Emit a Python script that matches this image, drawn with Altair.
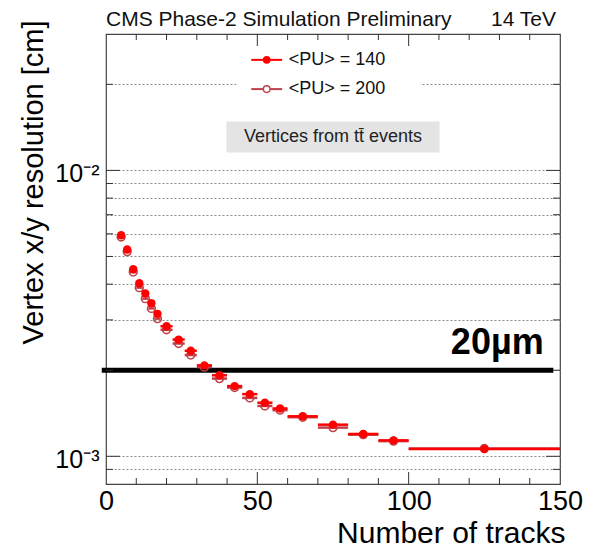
import altair as alt
import pandas as pd

FONT = "Liberation Sans"

# ---------------- data ----------------
bin_lo = [4, 6, 8, 10, 12, 14, 16, 18, 22, 26, 30, 35, 40, 45, 50, 55, 60, 70, 80, 90, 100]
bin_hi = [6, 8, 10, 12, 14, 16, 18, 22, 26, 30, 35, 40, 45, 50, 55, 60, 70, 80, 90, 100, 150]
bin_center = [5, 7, 9, 11, 13, 15, 17, 20, 24, 28, 32.5, 37.5, 42.5, 47.5, 52.5, 57.5, 65, 75, 85, 95, 125]
res_pu140 = [5.93e-3, 5.29e-3, 4.51e-3, 4.03e-3, 3.71e-3, 3.43e-3, 3.15e-3, 2.85e-3, 2.56e-3, 2.34e-3,
             2.08e-3, 1.92e-3, 1.76e-3, 1.65e-3, 1.54e-3, 1.47e-3, 1.38e-3, 1.29e-3, 1.197e-3, 1.137e-3, 1.06e-3]
res_pu200 = [5.85e-3, 5.20e-3, 4.41e-3, 3.89e-3, 3.56e-3, 3.29e-3, 3.03e-3, 2.77e-3, 2.48e-3, 2.26e-3,
             2.05e-3, 1.87e-3, 1.74e-3, 1.60e-3, 1.50e-3, 1.45e-3, 1.37e-3, 1.26e-3, 1.19e-3, 1.13e-3, 1.065e-3]
series_labels = ["<PU> = 140", "<PU> = 200"]
series_colors = ["#ff0000", "#c0404a"]

x_major = [0, 50, 100, 150]
x_minor = [10, 20, 30, 40, 60, 70, 80, 90, 110, 120, 130, 140]
y_grid = [9e-4, 1e-3, 2e-3, 3e-3, 4e-3, 5e-3, 6e-3, 7e-3, 8e-3, 9e-3, 1e-2, 2e-2]
y_major = [1e-3, 1e-2]

threshold_value = 0.002
threshold_label = "20µm"
threshold_x = [-1.4, 147.8]
header_left = "CMS Phase-2 Simulation Preliminary"
header_right = "14 TeV"
box_label = "Vertices from tt\u0304 events"

# ---------------- layout ----------------
W, H = 454, 450
x_scale = alt.Scale(domain=[0, 150], nice=False, zero=False)
y_scale = alt.Scale(type="log", domain=[8e-4, 3e-2], nice=False)

x_axis = alt.Axis(
    values=x_major, format="d", labelFont=FONT, labelFontSize=27, labelColor="black",
    labelPadding=4, labelFlush=False, tickSize=0, domain=False, grid=False,
    title="Number of tracks", titleFont=FONT, titleFontSize=30, titleFontWeight="normal",
    titleColor="black", titleAnchor="end", titleAlign="right", titleBaseline="alphabetic",
    titleX=W + 5, titleY=58,
)
y_axis = alt.Axis(
    values=y_grid,
    labelExpr="datum.value == 0.01 ? '10\u207b\u00b2' : (datum.value == 0.001 ? '10\u207b\u00b3' : '')",
    labelFont=FONT, labelFontSize=25, labelColor="black", labelPadding=7, labelOffset=3,
    tickSize=0, domain=False, grid=True, gridColor="#8a8a8a", gridDash=[2, 2], gridWidth=1,
    title="Vertex x/y resolution [cm]", titleFont=FONT, titleFontSize=29, titleFontWeight="normal",
    titleColor="black", titleAngle=-90, titleAlign="right", titleBaseline="alphabetic",
    titleX=-64, titleY=-14,
)


def X(field):
    return alt.X(field, type="quantitative", scale=x_scale, axis=x_axis)


def Y(field):
    return alt.Y(field, type="quantitative", scale=y_scale, axis=y_axis)


rows = []
for s, vals in zip(series_labels, [res_pu140, res_pu200]):
    for lo, hi, c, v in zip(bin_lo, bin_hi, bin_center, vals):
        rows.append({"series": s, "lo": lo, "hi": hi, "x": c, "y": v})
df = pd.DataFrame(rows)

color = alt.Color("series:N", scale=alt.Scale(domain=series_labels, range=series_colors), legend=None)

# boxes
legend_bg = alt.Chart(pd.DataFrame({"x": [43.1], "x2": [103.9], "y": [1.72e-2], "y2": [2.75e-2]})).mark_rect(
    color="white").encode(x=X("x"), x2="x2", y=Y("y"), y2="y2")
text_box = alt.Chart(pd.DataFrame({"x": [39.8], "x2": [110.2], "y": [1.156e-2], "y2": [1.483e-2]})).mark_rect(
    color="#e4e4e4").encode(x=X("x"), x2="x2", y=Y("y"), y2="y2")
text_box_label = alt.Chart(pd.DataFrame({"x": [75], "y": [1.311e-2], "t": [box_label]})).mark_text(
    font=FONT, fontSize=18, color="#222", align="center", baseline="middle").encode(x=X("x"), y=Y("y"), text="t:N")

# threshold line
thr = alt.Chart(pd.DataFrame({"x": [threshold_x[0]], "x2": [threshold_x[1]], "y": [threshold_value]})).mark_rule(
    color="black", strokeWidth=5).encode(x=X("x"), x2="x2", y=Y("y"))
thr_label = alt.Chart(pd.DataFrame({"x": [144.6], "y": [2.272e-3], "t": [threshold_label]})).mark_text(
    font=FONT, fontSize=36, fontWeight="bold", color="black", align="right", baseline="alphabetic").encode(
    x=X("x"), y=Y("y"), text="t:N")

# ticks (ROOT style, inward)
tick_color = "#333333"
xmaj_df = pd.DataFrame({"x": x_major[1:-1]})
xmin_df = pd.DataFrame({"x": x_minor})
ticks = [
    alt.Chart(xmaj_df).mark_rule(color=tick_color).encode(x=X("x"), y=alt.value(H), y2=alt.value(H - 12)),
    alt.Chart(xmaj_df).mark_rule(color=tick_color).encode(x=X("x"), y=alt.value(0), y2=alt.value(12)),
    alt.Chart(xmin_df).mark_rule(color=tick_color).encode(x=X("x"), y=alt.value(H), y2=alt.value(H - 6)),
    alt.Chart(xmin_df).mark_rule(color=tick_color).encode(x=X("x"), y=alt.value(0), y2=alt.value(6)),
]
ymaj_df = pd.DataFrame({"y": y_major})
ymin_df = pd.DataFrame({"y": [v for v in y_grid if v not in y_major]})
ticks += [
    alt.Chart(ymaj_df).mark_rule(color=tick_color).encode(y=Y("y"), x=alt.value(0), x2=alt.value(14)),
    alt.Chart(ymaj_df).mark_rule(color=tick_color).encode(y=Y("y"), x=alt.value(W), x2=alt.value(W - 14)),
    alt.Chart(ymin_df).mark_rule(color=tick_color).encode(y=Y("y"), x=alt.value(0), x2=alt.value(7)),
    alt.Chart(ymin_df).mark_rule(color=tick_color).encode(y=Y("y"), x=alt.value(W), x2=alt.value(W - 7)),
]

# data series
base = alt.Chart(df)
pu200 = base.transform_filter(alt.datum.series == series_labels[1])
pu140 = base.transform_filter(alt.datum.series == series_labels[0])
err200 = pu200.mark_rule(strokeWidth=2.5).encode(x=X("lo"), x2="hi", y=Y("y"), color=color)
pts200 = pu200.mark_point(shape="circle", filled=False, size=60, strokeWidth=1.6, opacity=1).encode(
    x=X("x"), y=Y("y"), color=color)
err140 = pu140.mark_rule(strokeWidth=2.5).encode(x=X("lo"), x2="hi", y=Y("y"), color=color)
pts140 = pu140.mark_point(shape="circle", filled=True, size=70, opacity=1).encode(x=X("x"), y=Y("y"), color=color)

# legend (drawn manually, ROOT style)
leg = pd.DataFrame({"series": series_labels, "y": [2.436e-2, 1.925e-2],
                    "lx1": [48.0, 48.0], "lx2": [58.2, 58.2], "mx": [53.1, 53.1], "tx": [60.4, 60.4]})
lbase = alt.Chart(leg)
leg_lines = lbase.mark_rule(strokeWidth=2).encode(x=X("lx1"), x2="lx2", y=Y("y"), color=color)
leg_p140 = lbase.transform_filter(alt.datum.series == series_labels[0]).mark_point(
    shape="circle", filled=True, size=60, opacity=1).encode(x=X("mx"), y=Y("y"), color=color)
leg_p200 = lbase.transform_filter(alt.datum.series == series_labels[1]).mark_point(
    shape="circle", filled=False, size=45, strokeWidth=1.4, opacity=1, fill="white").encode(
    x=X("mx"), y=Y("y"), color=color)
leg_text = lbase.mark_text(font=FONT, fontSize=18, color="#111", align="left", baseline="middle").encode(
    x=X("tx"), y=Y("y"), text="series:N")

# header
hdr = pd.DataFrame({"l": [header_left], "r": [header_right]})
hdr_left = alt.Chart(hdr).mark_text(font=FONT, fontSize=21, color="#111", align="left", baseline="alphabetic").encode(
    x=alt.value(0), y=alt.value(-8), text="l:N")
hdr_right = alt.Chart(hdr).mark_text(font=FONT, fontSize=21, color="#111", align="right", baseline="alphabetic").encode(
    x=alt.value(W - 4), y=alt.value(-8), text="r:N")

chart = alt.layer(
    legend_bg, text_box, text_box_label, thr, *ticks,
    err200, pts200, err140, pts140,
    leg_lines, leg_p200, leg_p140, leg_text,
    thr_label, hdr_left, hdr_right,
).properties(
    width=W, height=H,
    autosize=alt.AutoSizeParams(type="none"),
    padding={"left": 106, "top": 34, "right": 29, "bottom": 67},
    background="white",
).configure_view(stroke="#444444", strokeWidth=1.2)

chart.save("out.html", embed_options={"renderer": "svg", "actions": False})
